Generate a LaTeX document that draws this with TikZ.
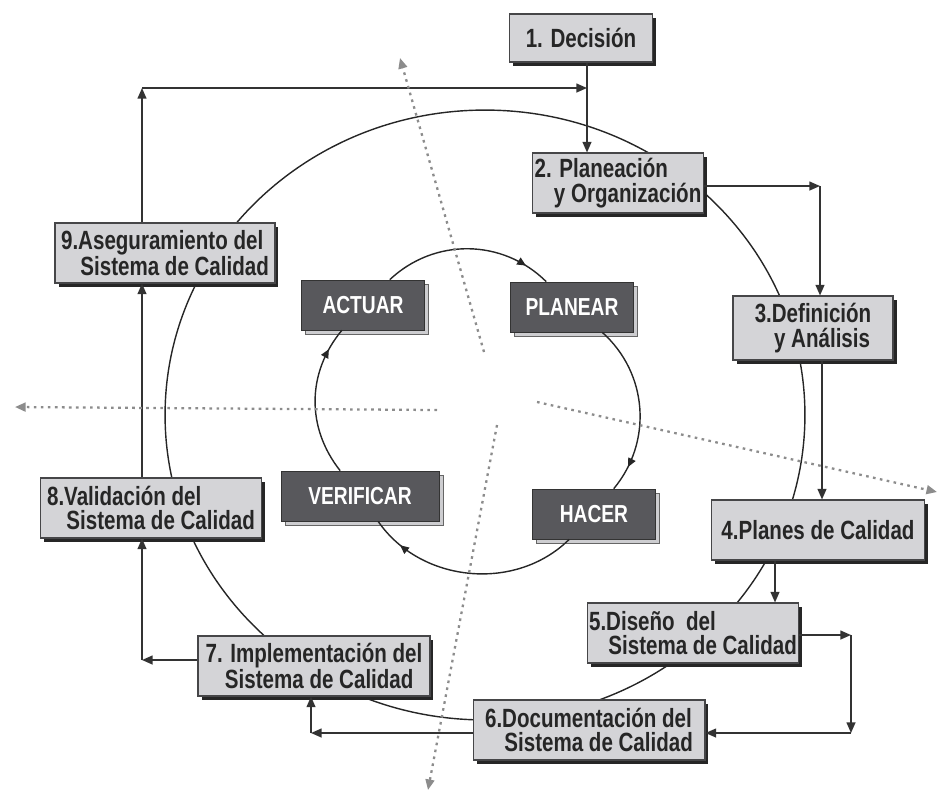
\documentclass[tikz,border=0pt]{standalone}
\usepackage{fontspec}
\newfontfamily\boxfont{Liberation Sans}[FakeStretch=0.78]
\usetikzlibrary{arrows.meta,shadows,decorations.markings}
\definecolor{stepgray} {RGB}{212,212,215}
\definecolor{stepline} {RGB}{ 70, 70, 72}
\definecolor{pdcafill} {RGB}{ 88, 88, 92}
\definecolor{pdcashade}{RGB}{205,205,208}
\definecolor{guidegray}{RGB}{140,140,140}
\newcommand{\secind}{\\\hspace*{11pt}}

\begin{document}
\begin{tikzpicture}[x=0.02cm, y=0.02cm,
    phase/.style={draw=stepline, fill=stepgray, line width=0.6pt, align=left, minimum height=1.2cm, inner sep=1pt, text=black!85,
        font=\boxfont\bfseries\fontsize{15}{13.8}\selectfont,
        drop shadow={shadow xshift=2pt, shadow yshift=-2pt, fill=black!85, opacity=1}},
    pdca/.style={draw=black!80, fill=pdcafill, minimum height=1cm, text=white,
        font=\boxfont\bfseries\fontsize{14}{14}\selectfont,
        drop shadow={shadow xshift=2.3pt, shadow yshift=-2.3pt, fill=pdcashade, draw=black!60, opacity=1}},
    arrow/.style={-{Triangle[length=6pt,width=5pt]}, line width=0.9pt, draw=black!80},
    ring/.style={line width=0.8pt, draw=black!85},
    cyclearc/.style={ring, postaction={decorate}, decoration={markings, mark=at position 0.85 with {\arrow{Triangle[length=5pt,width=4.5pt]}}}},
    guide/.style={draw=guidegray, line width=1.3pt, dash pattern=on 1.5pt off 2.5pt, -{Triangle[length=6pt,width=5pt]}}
]
    \useasboundingbox (0,0) rectangle (940,-796);
    \draw[ring] (485,-415) ellipse [x radius=6.4cm, y radius=6.1cm];

    \node[phase, minimum width=2.86cm, minimum height=0.96cm] (dec) at (581,-38) {1. Decisión};
    \node[phase, minimum width=3.28cm] (plan) at (618,-183) {2. Planeación\secind y Organización};
    \node[phase, minimum width=3.2cm, minimum height=1.28cm] (def) at (813,-328) {3.Definición\secind y Análisis};
    \node[phase, minimum width=4.26cm] (pla) at (818,-530) {4.Planes de Calidad};
    \node[phase, minimum width=4.14cm] (dis) at (693,-633) {5.Diseño~ del\secind Sistema de Calidad};
    \node[phase, minimum width=4.64cm] (doc) at (589,-730) {6.Documentación del\secind Sistema de Calidad};
    \node[phase, minimum width=4.64cm] (imp) at (314,-666) {7. Implementación del\secind Sistema de Calidad};
    \node[phase, minimum width=4.42cm] (val) at (151,-508) {8.Validación del\secind Sistema de Calidad};
    \node[phase, minimum width=4.4cm] (ase) at (165,-253) {9.Aseguramiento del\secind Sistema de Calidad};

    \node[pdca, minimum width=2.46cm] (actuar) at (363,-305) {ACTUAR};
    \node[pdca, minimum width=2.46cm] (planear) at (572,-307) {PLANEAR};
    \node[pdca, minimum width=2.46cm] (hacer) at (594,-514) {HACER};
    \node[pdca, minimum width=3.16cm] (verificar) at (360,-496) {VERIFICAR};

    \draw[cyclearc] (actuar) to[bend left=44] (planear);
    \draw[cyclearc] (planear) to[bend left=44] (hacer);
    \draw[cyclearc] (hacer) to[bend left=50] (verificar);
    \draw[cyclearc] (verificar) to[bend left=39] (actuar);

    \coordinate (topcorner) at (142,-88);
    \coordinate (topjoin) at (587,-88);
    \coordinate (c23) at (820,-186);
    \coordinate (c34) at (822,-360);
    \coordinate (c45) at (775,-560);
    \coordinate (c56) at (851,-635);
    \coordinate (c65) at (851,-733);
    \coordinate (c67) at (311,-733);
    \coordinate (c78) at (142,-660);

    \draw[arrow] (dec.south -| topjoin) -- (plan.north -| topjoin);
    \draw[arrow] (plan.east |- c23) -- (c23);
    \draw[arrow] (c23) -- (def.north -| c23);
    \draw[arrow] (def.south -| c34) -- (pla.north -| c34);
    \draw[arrow] (pla.south -| c45) -- (dis.north -| c45);
    \draw[arrow] (dis.east |- c56) -- (c56);
    \draw[arrow] (c56) -- (c65);
    \draw[arrow] (c65) -- (doc.east |- c65);
    \draw[arrow] (doc.west |- c67) -- (c67);
    \draw[arrow] (c67) -- (imp.south -| c67);
    \draw[arrow] (imp.west |- c78) -- (c78);
    \draw[arrow] (c78) -- (val.south -| c78);
    \draw[arrow] (val.north -| c78) -- (ase.south -| c78);
    \draw[arrow] (ase.north -| topcorner) -- (topcorner);
    \draw[arrow] (topcorner) -- (topjoin);

    \coordinate (gup0) at (484,-352);   \coordinate (gup) at (400,-58);
    \coordinate (gleft0) at (437,-410); \coordinate (gleft) at (15,-407);
    \coordinate (gright0) at (537,-402);\coordinate (gright) at (937,-492);
    \coordinate (gdown0) at (497,-425); \coordinate (gdown) at (428,-790);
    \draw[guide] (gup0) -- (gup);
    \draw[guide] (gleft0) -- (gleft);
    \draw[guide] (gright0) -- (gright);
    \draw[guide] (gdown0) -- (gdown);
\end{tikzpicture}
\end{document}
